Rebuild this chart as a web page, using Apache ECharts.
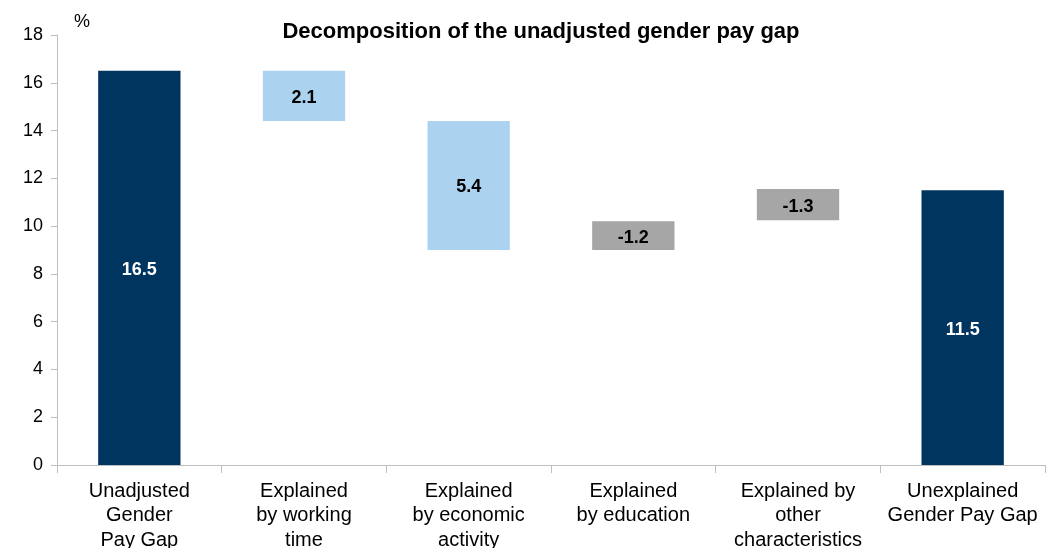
<!DOCTYPE html>
<html>
<head>
<meta charset="utf-8">
<script src="https://cdn.jsdelivr.net/npm/echarts@6/dist/echarts.min.js"></script>
<style>
  html, body { margin: 0; padding: 0; background: #fff; }
  #chart { width: 1046px; height: 548px; }
</style>
</head>
<body>
<div id="chart"></div>
<script>
// 数据
var categories = ['Unadjusted\nGender\nPay Gap', 'Explained\nby working\ntime', 'Explained\nby economic\nactivity', 'Explained\nby education', 'Explained by\nother\ncharacteristics', 'Unexplained\nGender Pay Gap'];
var baseValues = [0, 14.4, 9.0, 9.0, 10.25, 0];
var barValues = [16.5, 2.1, 5.4, 1.2, 1.3, 11.5];
var barLabels = ['16.5', '2.1', '5.4', '-1.2', '-1.3', '11.5'];
var barColors = ['#003560', '#abd3f0', '#abd3f0', '#a6a6a6', '#a6a6a6', '#003560'];
var labelColors = ['#ffffff', '#000000', '#000000', '#000000', '#000000', '#ffffff'];

var chart = echarts.init(document.getElementById('chart'));

var option = {
    animation: false,
    title: {
        text: 'Decomposition of the unadjusted gender pay gap',
        left: 536,
        textAlign: 'center',
        top: 16,
        textStyle: { fontFamily: 'Liberation Sans', fontSize: 22, fontWeight: 'bold', color: '#000' }
    },
    graphic: [{
        type: 'text',
        left: 74,
        top: 13,
        style: { text: '%', font: '18px "Liberation Sans"', fill: '#000' }
    }],
    grid: { left: 57, right: 1, top: 35, bottom: 83, outerBoundsMode: 'none' },
    xAxis: {
        type: 'category',
        data: categories,
        axisLine: { lineStyle: { color: '#bfbfbf' } },
        axisTick: { show: true, length: 8, lineStyle: { color: '#bfbfbf' } },
        axisLabel: {
            interval: 0,
            margin: 14,
            fontFamily: 'Liberation Sans',
            fontSize: 20,
            lineHeight: 24.5,
            color: '#000'
        }
    },
    yAxis: {
        type: 'value',
        min: 0,
        max: 18,
        interval: 2,
        axisLine: { show: true, lineStyle: { color: '#bfbfbf' } },
        axisTick: { show: true, length: 6, lineStyle: { color: '#bfbfbf' } },
        splitLine: { show: false },
        axisLabel: { margin: 14, fontFamily: 'Liberation Sans', fontSize: 18, color: '#000' }
    },
    series: [{
        type: 'bar',
        stack: 'w',
        data: baseValues,
        barWidth: '50%',
        itemStyle: { color: 'transparent' },
        silent: true
    }, {
        type: 'bar',
        stack: 'w',
        barWidth: '50%',
        data: barValues.map(function (v, i) {
            return {
                value: v,
                itemStyle: { color: barColors[i] },
                label: { color: labelColors[i] }
            };
        }),
        label: {
            show: true,
            position: 'inside',
            offset: [0, 2],
            fontFamily: 'Liberation Sans',
            fontWeight: 'bold',
            fontSize: 18,
            formatter: function (p) { return barLabels[p.dataIndex]; }
        }
    }]
};

chart.setOption(option);
</script>
</body>
</html>
